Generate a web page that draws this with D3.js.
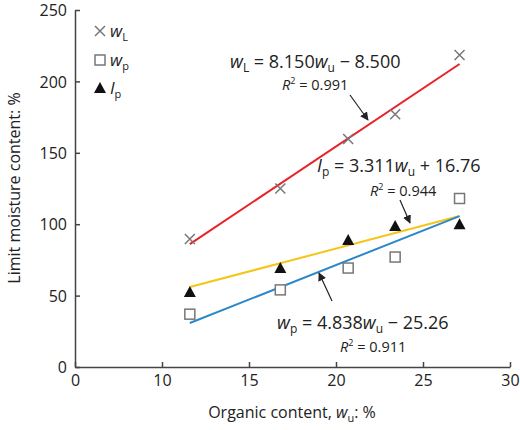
<!DOCTYPE html><html><head><meta charset="utf-8"><script src="https://d3js.org/d3.v7.min.js"></script>
<style>body{margin:0;background:#fff}text{font-family:"Open Sans",sans-serif;fill:#222}</style></head><body><svg width="520" height="430"></svg>
<script>
const xs=[11.6,16.8,20.7,23.4,27.1];
const wL=[89.6,125,159.7,177,218.5];
const wp=[37,54,69.3,77,118];
const Ip=[52.5,69.3,89,98.7,100];
const lineWL=[[11.6,86.1],[27.1,212.2]];
const lineWp=[[11.6,30.8],[27.1,105.7]];
const lineIp=[[11.6,56],[27.1,105.7]];
const xTicks=[5,10,15,20,25,30], yTicks=[0,50,100,150,200,250];
const svg=d3.select("svg");
const x=d3.scaleLinear().domain([5,30]).range([75,510]);
const y=d3.scaleLinear().domain([0,250]).range([367,10]);
const ax=svg.append("g").attr("transform","translate(0,367)").call(d3.axisBottom(x).tickValues(xTicks).tickFormat(d=>d==5?"0":d).tickSize(-5).tickSizeOuter(0).tickPadding(8));
const ay=svg.append("g").attr("transform","translate(75,0)").call(d3.axisLeft(y).tickValues(yTicks).tickSize(-5).tickSizeOuter(0).tickPadding(8));
[ax,ay].forEach(g=>{g.selectAll("text").attr("font-size",16).style("fill","#222");g.selectAll("line,path").attr("stroke","#444").attr("stroke-width",1.5);});
ay.selectAll(".tick line").attr("x2",5);
ay.selectAll(".tick text").attr("dy","0.35em");
const ln=d3.line().x(d=>x(d[0])).y(d=>y(d[1]));
[[lineWL,"#e8212a"],[lineIp,"#f5c518"],[lineWp,"#2a88c8"]].forEach(([d,c])=>svg.append("path").attr("d",ln(d)).attr("stroke",c).attr("stroke-width",2).attr("fill","none"));
const cross=(g,cx,cy)=>g.append("path").attr("d",`M${cx-5},${cy-5}L${cx+5},${cy+5}M${cx-5},${cy+5}L${cx+5},${cy-5}`).attr("stroke","#777").attr("stroke-width",1.5);
const sq=(g,cx,cy)=>g.append("rect").attr("x",cx-5).attr("y",cy-5).attr("width",10).attr("height",10).attr("fill","#fff").attr("stroke","#777").attr("stroke-width",1.5);
const tri=(g,cx,cy)=>g.append("path").attr("d",`M${cx},${cy-6}L${cx+6},${cy+5}L${cx-6},${cy+5}Z`).attr("fill","#111");
xs.forEach((v,i)=>{cross(svg,x(v),y(wL[i]));sq(svg,x(v),y(wp[i]));tri(svg,x(v),y(Ip[i]));});
cross(svg,100,31);sq(svg,100,60);tri(svg,100,88);
const leg=(ty,main,sub)=>{const t=svg.append("text").attr("x",110).attr("y",ty).attr("font-size",17);t.append("tspan").attr("font-style","italic").text(main);t.append("tspan").attr("font-size",11).attr("dy",4).text(sub);};
leg(37,"w","L");leg(66,"w","p");leg(94,"I","p");
const eq=(tx,ty,a,as,rest)=>{const t=svg.append("text").attr("x",tx).attr("y",ty).attr("font-size",18);t.append("tspan").attr("font-style","italic").text(a);t.append("tspan").attr("font-size",12).attr("dy",4).text(as);t.append("tspan").attr("dy",-4).text(rest[0]);t.append("tspan").attr("font-style","italic").text("w");t.append("tspan").attr("font-size",12).attr("dy",4).text("u");t.append("tspan").attr("dy",-4).text(rest[1]);};
eq(230,68,"w","L",[" = 8.150"," − 8.500"]);
eq(317,172,"I","p",[" = 3.311"," + 16.76"]);
eq(277,329,"w","p",[" = 4.838"," − 25.26"]);
const r2=(tx,ty,v)=>{const t=svg.append("text").attr("x",tx).attr("y",ty).attr("font-size",14.5);t.append("tspan").attr("font-style","italic").text("R");t.append("tspan").attr("font-size",9).attr("dy",-6).text("2");t.append("tspan").attr("dy",6).text(" = "+v);};
r2(282,90,"0.991");r2(370,196,"0.944");r2(340,352,"0.911");
svg.append("defs").append("marker").attr("id","ah").attr("viewBox","0 0 10 10").attr("refX",9).attr("refY",5).attr("markerWidth",7).attr("markerHeight",7).attr("orient","auto").append("path").attr("d","M0,0L10,5L0,10Z").attr("fill","#222");
[[350,95,368,120],[400,200,410,223],[332,301,319,273]].forEach(a=>svg.append("line").attr("x1",a[0]).attr("y1",a[1]).attr("x2",a[2]).attr("y2",a[3]).attr("stroke","#222").attr("stroke-width",1.2).attr("marker-end","url(#ah)"));
const xl=svg.append("text").attr("x",292).attr("y",418).attr("text-anchor","middle").attr("font-size",16);
xl.append("tspan").text("Organic content, ");xl.append("tspan").attr("font-style","italic").text("w");xl.append("tspan").attr("font-size",11).attr("dy",4).text("u");xl.append("tspan").attr("dy",-4).text(": %");
svg.append("text").attr("transform","translate(20,188) rotate(-90)").attr("text-anchor","middle").attr("font-size",16).text("Limit moisture content: %");
</script></body></html>
